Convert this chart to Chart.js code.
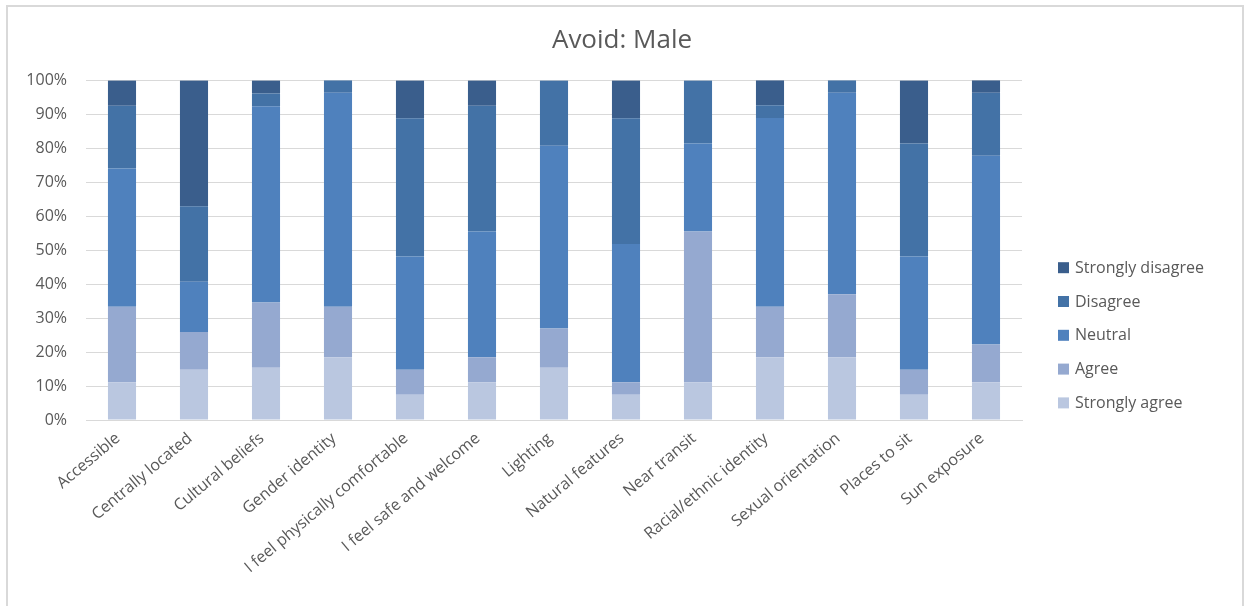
<!DOCTYPE html>
<html>
<head>
<meta charset="utf-8">
<title>Avoid: Male</title>
<script src="https://cdn.jsdelivr.net/npm/chart.js@4.4.1/dist/chart.umd.min.js"></script>
<style>
    html, body { margin: 0; padding: 0; background: #fff; }
    #wrap { position: relative; width: 1244px; height: 606px; overflow: hidden; }
    #frame {
        position: absolute; left: 6px; top: 5px; width: 1234px; height: 700px;
        border: 2px solid #d9d9d9; border-bottom: none; pointer-events: none;
    }
</style>
</head>
<body>
<div id="wrap">
    <canvas id="chart"></canvas>
    <div id="frame"></div>
</div>
<script>
// survey answers, share of respondents (%) per place attribute
const categories = [
    'Accessible', 'Centrally located', 'Cultural beliefs', 'Gender identity',
    'I feel physically comfortable', 'I feel safe and welcome', 'Lighting',
    'Natural features', 'Near transit', 'Racial/ethnic identity',
    'Sexual orientation', 'Places to sit', 'Sun exposure'
];
const stronglyAgree    = [11.1, 14.8, 15.4, 18.5,  7.4, 11.1, 15.4,  7.4, 11.1, 18.5, 18.5,  7.4, 11.1];
const agree            = [22.2, 11.1, 19.2, 14.8,  7.4,  7.4, 11.5,  3.7, 44.4, 14.8, 18.5,  7.4, 11.1];
const neutral          = [40.7, 14.8, 57.7, 63.0, 33.3, 37.0, 53.8, 40.7, 25.9, 55.6, 59.3, 33.3, 55.6];
const disagree         = [18.5, 22.2,  3.8,  3.7, 40.7, 37.0, 19.2, 37.0, 18.5,  3.7,  3.7, 33.3, 18.5];
const stronglyDisagree = [ 7.4, 37.0,  3.8,  0.0, 11.1,  7.4,  0.0, 11.1,  0.0,  7.4,  0.0, 18.5,  3.7];
const yTicks = [0, 10, 20, 30, 40, 50, 60, 70, 80, 90, 100];

const TEXT = '#595959';
const GRID = '#d9d9d9';
const FONT = "'Open Sans', 'Noto Sans', sans-serif";

const series = [
    { label: 'Strongly agree', data: stronglyAgree, color: '#bac7e0' },
    { label: 'Agree', data: agree, color: '#95a9d0' },
    { label: 'Neutral', data: neutral, color: '#4f81bd' },
    { label: 'Disagree', data: disagree, color: '#4372a6' },
    { label: 'Strongly disagree', data: stronglyDisagree, color: '#3a5e8c' }
];

// legend on the right, darkest answer on top
const sideLegend = {
    id: 'sideLegend',
    afterDraw(chart) {
        const ctx = chart.ctx;
        const area = chart.chartArea;
        const items = chart.data.datasets.slice().reverse();
        ctx.save();
        ctx.font = '16px ' + FONT;
        ctx.textBaseline = 'middle';
        items.forEach(function (ds, i) {
            const y = area.top + 187 + i * 33.8;
            ctx.fillStyle = ds.backgroundColor;
            ctx.fillRect(area.right + 36, y - 5, 11, 11);
            ctx.fillStyle = TEXT;
            ctx.fillText(ds.label, area.right + 53, y + 1);
        });
        ctx.restore();
    }
};

new Chart(document.getElementById('chart'), {
    type: 'bar',
    data: {
        labels: categories,
        datasets: series.map(function (s) {
            return {
                label: s.label,
                data: s.data,
                backgroundColor: s.color,
                borderWidth: 0,
                categoryPercentage: 1,
                barPercentage: 0.39
            };
        })
    },
    options: {
        responsive: true,
        maintainAspectRatio: false,
        animation: false,
        layout: { padding: 0 },
        plugins: {
            legend: { display: false },
            tooltip: { enabled: false },
            title: {
                display: true,
                text: 'Avoid: Male',
                color: TEXT,
                font: { family: FONT, size: 26, weight: 'normal' },
                padding: { top: 25, bottom: 24 }
            }
        },
        scales: {
            x: {
                stacked: true,
                grid: { display: false },
                border: { color: GRID, width: 1 },
                ticks: {
                    color: TEXT,
                    font: { family: FONT, size: 16 },
                    autoSkip: false,
                    minRotation: 40,
                    maxRotation: 40,
                    labelOffset: -4,
                    padding: 1
                },
                afterFit: function (scale) { scale.height = 186; }
            },
            y: {
                stacked: true,
                min: 0,
                max: 100,
                afterBuildTicks: function (scale) {
                    scale.ticks = yTicks.map(function (v) { return { value: v }; });
                },
                grid: { color: GRID, lineWidth: 1, drawTicks: false },
                border: { display: false },
                ticks: {
                    color: TEXT,
                    font: { family: FONT, size: 16 },
                    padding: 19,
                    callback: function (v) { return v + '%'; }
                },
                afterFit: function (scale) { scale.width = 86; }
            },
            // empty band on the right that holds the legend
            side: {
                position: 'right',
                grid: { display: false },
                border: { display: false },
                ticks: { display: false },
                afterFit: function (scale) { scale.width = 222; }
            }
        }
    },
    plugins: [sideLegend]
});
</script>
</body>
</html>
